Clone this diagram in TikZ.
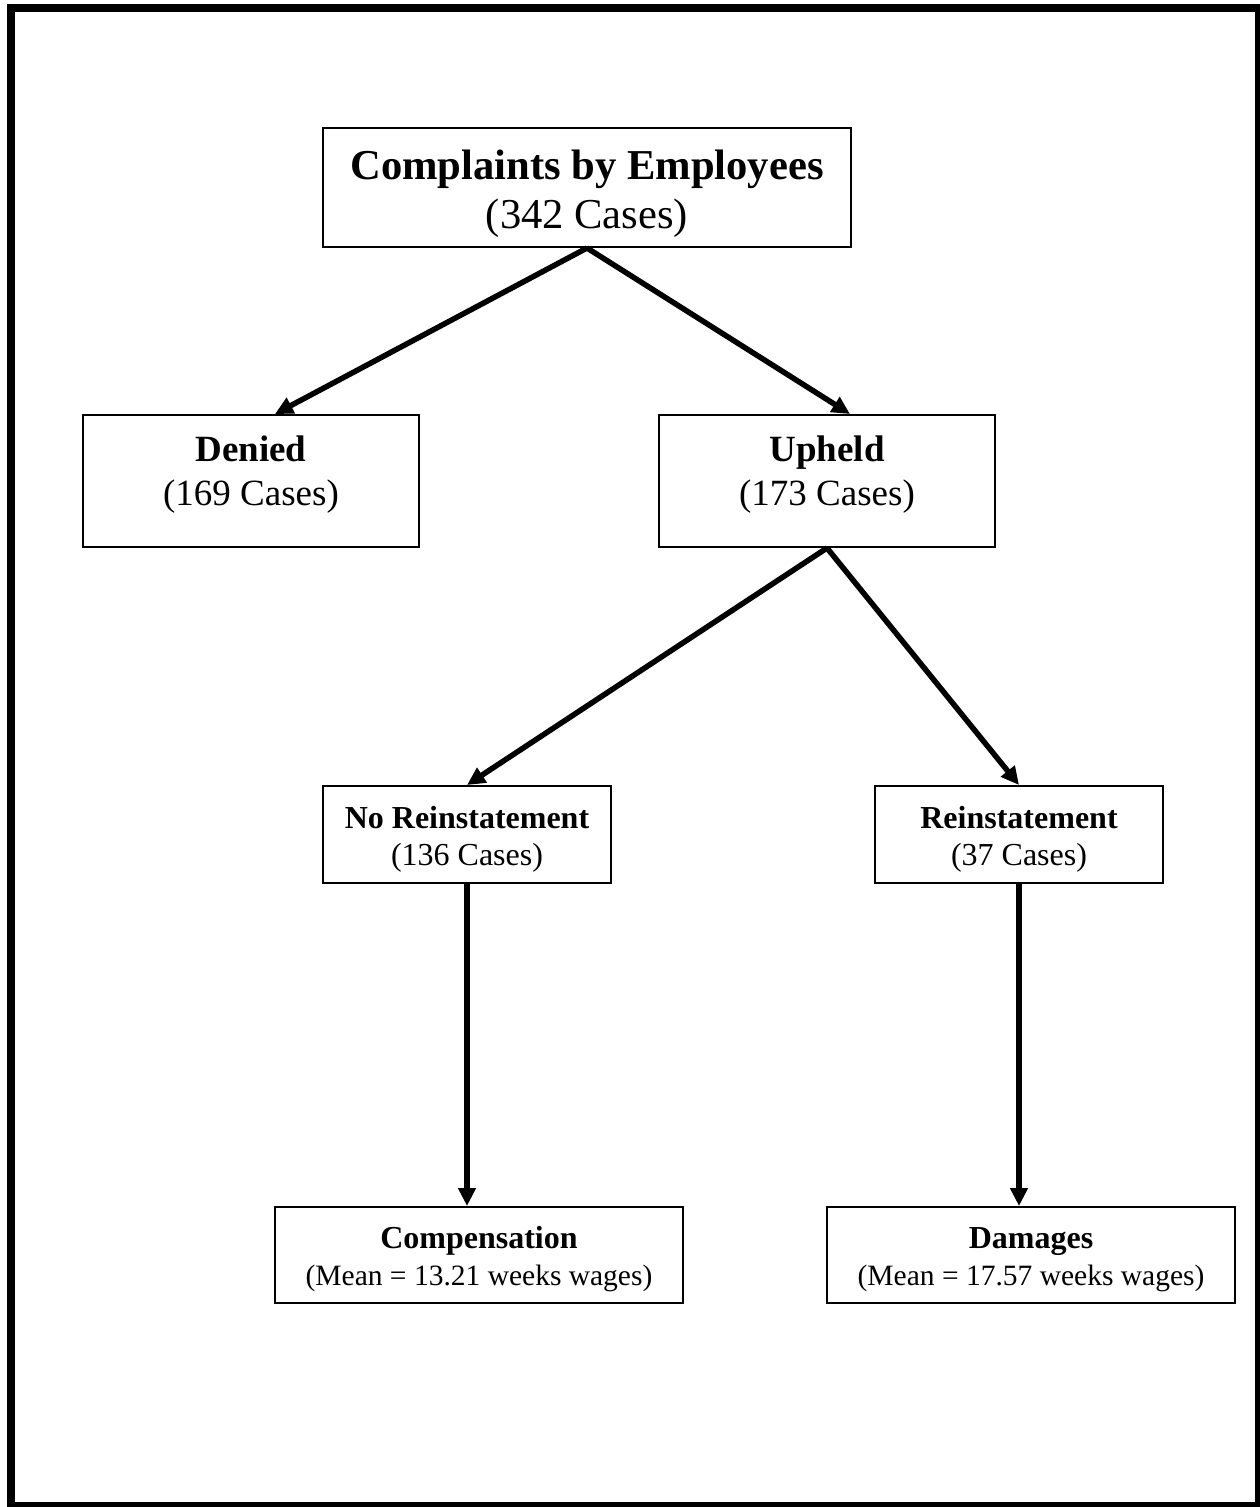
\documentclass[tikz,border=0pt]{standalone}
\usepackage{fontspec}
\setmainfont{Liberation Serif}
\usetikzlibrary{arrows.meta}

\begin{document}
\begin{tikzpicture}[x=0.5pt, y=-0.5pt,
    box/.style={draw, line width=1pt, align=center, inner sep=0pt},
    root/.style={box, minimum width=264pt, minimum height=59.5pt,
        font=\fontsize{21.3}{24.5}\selectfont},
    outcome/.style={box, minimum width=168pt, minimum height=66pt,
        font=\fontsize{18.5}{21.7}\selectfont},
    remedy/.style={box, minimum width=144pt, minimum height=48.5pt,
        font=\fontsize{16}{18.5}\selectfont},
    award/.style={box, minimum width=204pt, minimum height=48pt,
        font=\fontsize{16}{18.5}\selectfont},
    link/.style={line width=2.75pt, -{Triangle[length=9pt, width=8.5pt]}}
    ]
    \useasboundingbox (0,0) rectangle (1259,1507);
    \draw[line width=4pt] (11,8) rectangle (1259,1506);

    \node[root] (complaints) at (587,187.5)
        {\rule{0pt}{22.5pt}\textbf{Complaints by Employees}\\(342 Cases)\rule[-6pt]{0pt}{6pt}};
    \node[outcome] (denied) at (251,481)
        {\rule{0pt}{14.5pt}\textbf{Denied}\\(169 Cases)\rule[-12.1pt]{0pt}{12.1pt}};
    \node[outcome] (upheld) at (827,481)
        {\rule{0pt}{14.5pt}\textbf{Upheld}\\(173 Cases)\rule[-12.1pt]{0pt}{12.1pt}};
    \node[remedy] (noreinst) at (467,834.5)
        {\rule{0pt}{17pt}\textbf{No Reinstatement}\\(136 Cases)\rule[-4.7pt]{0pt}{4.7pt}};
    \node[remedy] (reinst) at (1019,834.5)
        {\rule{0pt}{17pt}\textbf{Reinstatement}\\(37 Cases)\rule[-4.7pt]{0pt}{4.7pt}};
    \node[award] (compensation) at (479,1255)
        {\rule{0pt}{16.5pt}\textbf{Compensation}\\{\fontsize{14.75}{18.5}\selectfont
        (Mean = 13.21 weeks wages)\rule[-4.5pt]{0pt}{4.5pt}}};
    \node[award] (damages) at (1031,1255)
        {\rule{0pt}{16.5pt}\textbf{Damages}\\{\fontsize{14.75}{18.5}\selectfont
        (Mean = 17.57 weeks wages)\rule[-4.5pt]{0pt}{4.5pt}}};

    \draw[link] (complaints.south) -- ([xshift=12pt]denied.north);
    \draw[link] (complaints.south) -- ([xshift=11.5pt]upheld.north);
    \draw[link] (upheld.south) -- (noreinst.north);
    \draw[link] (upheld.south) -- (reinst.north);
    \draw[link] (noreinst.south) -- (noreinst.south |- compensation.north);
    \draw[link] (reinst.south) -- (reinst.south |- damages.north);
\end{tikzpicture}
\end{document}
